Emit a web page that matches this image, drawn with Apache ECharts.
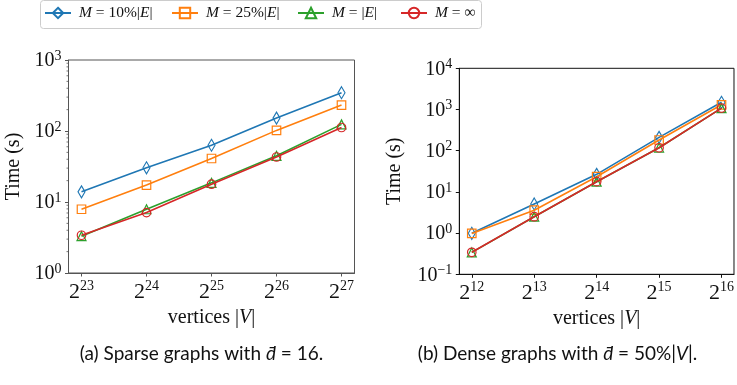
<!DOCTYPE html>
<html><head><meta charset="utf-8">
<script src="https://cdn.jsdelivr.net/npm/echarts@6/dist/echarts.min.js"></script>
<style>html,body{margin:0;padding:0;background:#fff}#c{width:737px;height:385px}</style>
</head><body><div id="c"></div>
<script>
// ---- data ----
const vertsSparse = [23, 24, 25, 26, 27];     // log2 |V|
const vertsDense = [12, 13, 14, 15, 16];      // log2 |V|
const sparseM10 = [13.9, 30.3, 63, 152, 346];
const sparseM25 = [7.9, 17.3, 41, 102, 232];
const sparseME = [3.3, 7.9, 18.6, 44.7, 124];
const sparseInf = [3.4, 7.1, 17.8, 43, 112];
const denseM10 = [0.99, 5.1, 26.7, 211, 1500];
const denseM25 = [0.98, 3.6, 23.4, 182, 1300];
const denseME = [0.34, 2.5, 17.7, 118, 1080];
const denseInf = [0.342, 2.5, 17.7, 118, 1080];
const seriesNames = ['M10', 'M25', 'ME', 'MInf'];
const legendLabels = ['{i|M} = 10%|{i|E}|', '{i|M} = 25%|{i|E}|', '{i|M} = |{i|E}|', '{i|M} = ∞'];
const minorTicksSparse = [2,3,4,5,6,7,8,9,20,30,40,50,60,70,80,90,200,300,400,500,600,700,800,900];

const colors = ['#1f77b4', '#ff7f0e', '#2ca02c', '#d62728'];
const symbols = ['diamond', 'rect', 'triangle', 'circle'];
const symSizes = [[7, 12], 8.5, 9, 8.5];
const serif = 'Liberation Serif';

const chart = echarts.init(document.getElementById('c'));

function zip(xs, ys) { return xs.map((x, i) => [x, ys[i]]); }

function mkSeries(idx, gi, xs, ys) {
  return {
    type: 'line', name: seriesNames[idx], xAxisIndex: gi, yAxisIndex: gi,
    data: zip(xs, ys), symbol: symbols[idx], symbolSize: symSizes[idx],
    showAllSymbol: true, animation: false, z: 2 + idx,
    lineStyle: { color: colors[idx], width: 1.6 },
    itemStyle: { color: 'rgba(255,255,255,0)', borderColor: colors[idx], borderWidth: 1.2 },
    emphasis: { disabled: true }
  };
}

const supRich = {
  b: { fontFamily: serif, fontSize: 20, color: '#111', lineHeight: 22, verticalAlign: 'bottom' },
  s: { fontFamily: serif, fontSize: 14, color: '#111', lineHeight: 14, verticalAlign: 'top' }
};
const xSupRich = {
  b: { fontFamily: serif, fontSize: 22, color: '#111', lineHeight: 24, verticalAlign: 'bottom' },
  s: { fontFamily: serif, fontSize: 14, color: '#111', lineHeight: 14, verticalAlign: 'top' }
};

function yFmt(v) {
  const e = Math.round(Math.log10(v));
  return '{b|10}{s|' + (e < 0 ? '−' + (-e) : e) + '}';
}
function xFmt(v) { return '{b|2}{s|' + v + '}'; }

function xAxisCfg(gi, vals, lineColor) {
  return {
    type: 'value', gridIndex: gi, min: vals[0] - 0.2, max: vals[vals.length - 1] + 0.2,
    axisLine: { show: true, lineStyle: { color: lineColor, width: 1 } },
    axisTick: { show: true, inside: false, length: 3.5, customValues: vals, lineStyle: { color: lineColor } },
    axisLabel: { customValues: vals, formatter: xFmt, rich: xSupRich, margin: 6 },
    splitLine: { show: false },
    name: '{t|vertices |}{it|V}{t||}', nameLocation: 'middle', nameGap: 34,
    nameTextStyle: { rich: {
      t: { fontFamily: serif, fontSize: 20, color: '#111' },
      it: { fontFamily: serif, fontSize: 20, fontStyle: 'italic', color: '#111' } } }
  };
}
function yAxisCfg(gi, min, max, lineColor, gap) {
  return {
    type: 'log', logBase: 10, gridIndex: gi, min: min, max: max, interval: 1,
    axisLine: { show: true, lineStyle: { color: lineColor, width: 1 } },
    axisTick: { show: true, inside: false, length: 3.5, lineStyle: { color: lineColor } },
    axisLabel: { formatter: yFmt, rich: supRich, margin: 7 },
    splitLine: { show: false },
    name: 'Time (s)', nameLocation: 'middle', nameGap: gap, nameRotate: 90,
    nameTextStyle: { fontFamily: serif, fontSize: 20, color: '#111' }
  };
}

const series = [
  mkSeries(0, 0, vertsSparse, sparseM10),
  mkSeries(1, 0, vertsSparse, sparseM25),
  mkSeries(2, 0, vertsSparse, sparseME),
  mkSeries(3, 0, vertsSparse, sparseInf),
  mkSeries(0, 1, vertsDense, denseM10),
  mkSeries(1, 1, vertsDense, denseM25),
  mkSeries(2, 1, vertsDense, denseME),
  mkSeries(3, 1, vertsDense, denseInf),
  {
    type: 'custom', name: 'minor', xAxisIndex: 0, yAxisIndex: 0, silent: true, animation: false,
    clip: false, data: minorTicksSparse.map(v => [vertsSparse[0] - 0.2, v]),
    renderItem: function (params, api) {
      const p = api.coord([api.value(0), api.value(1)]);
      return { type: 'line', shape: { x1: p[0] - 2, y1: p[1], x2: p[0], y2: p[1] },
        style: { stroke: '#555', lineWidth: 0.8 } };
    }
  }
];

const legendLefts = [44, 171, 297, 400];
const legends = seriesNames.map((n, i) => ({
  data: [n], left: legendLefts[i], top: 5, itemWidth: 26, itemHeight: 13, itemGap: 0,
  selectedMode: false, padding: 0,
  formatter: () => legendLabels[i],
  textStyle: { padding: [0, 0, 0, 3], rich: {
    i: { fontFamily: serif, fontSize: 15.5, fontStyle: 'italic', color: '#111' } },
    fontFamily: serif, fontSize: 15.5, color: '#111' }
}));

chart.setOption({
  animation: false,
  textStyle: { fontFamily: serif },
  grid: [
    { left: 68.5, top: 60, width: 286, height: 213, show: true, borderColor: '#555', borderWidth: 1, backgroundColor: 'transparent' },
    { left: 459.3, top: 68.3, width: 276, height: 206, show: true, borderColor: '#111', borderWidth: 1, backgroundColor: 'transparent' }
  ],
  xAxis: [xAxisCfg(0, vertsSparse, '#555'), xAxisCfg(1, vertsDense, '#111')],
  yAxis: [yAxisCfg(0, 1, 1000, '#555', 45), yAxisCfg(1, 0.1, 10000, '#111', 55)],
  legend: legends,
  graphic: [
    { type: 'rect', shape: { x: 40.5, y: 0.5, width: 441, height: 28, r: 3 },
      style: { fill: 'rgba(255,255,255,0.8)', stroke: '#cccccc', lineWidth: 1 }, z: -1 },
    { type: 'text', x: 201.5, y: 354, style: { text: '(a) Sparse graphs with {i|d\u0304} = 16.',
      fontFamily: 'Lato', fontSize: 19, fill: '#111', align: 'center', verticalAlign: 'middle',
      rich: { i: { fontFamily: 'Lato', fontStyle: 'italic', fontSize: 19, fill: '#111' } } } },
    { type: 'text', x: 557.5, y: 354, style: { text: '(b) Dense graphs with {i|d\u0304} = 50%|{i|V}|.',
      fontFamily: 'Lato', fontSize: 19, fill: '#111', align: 'center', verticalAlign: 'middle',
      rich: { i: { fontFamily: 'Lato', fontStyle: 'italic', fontSize: 19, fill: '#111' } } } }
  ],
  series: series
});
</script></body></html>
